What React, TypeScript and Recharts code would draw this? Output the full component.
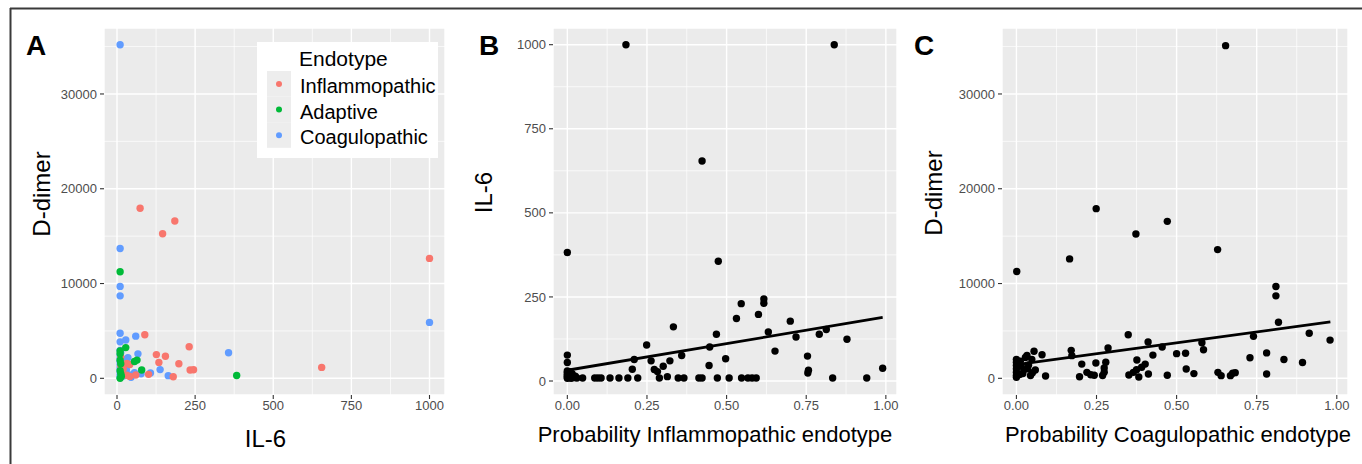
import {
  ScatterChart, Scatter, XAxis, YAxis, CartesianGrid, ReferenceLine, Legend,
} from "recharts";

type Pt = [number, number];

const endotypes = ["Inflammopathic", "Adaptive", "Coagulopathic"];
const endotypeColors = ["#F8766D", "#00BA38", "#619CFF"];

// panel A: [IL-6, D-dimer] per endotype
const inflammopathicA: Pt[] = [
  [74, 17950], [185, 16600], [146, 15250], [1000, 12650], [89, 4600], [231, 3330],
  [126, 2500], [155, 2330], [134, 1680], [198, 1540], [234, 880], [245, 900],
  [655, 1150], [180, 170], [101, 420], [31, 1580], [41, 1450], [31, 320],
  [41, 200], [12, 2250], [12, 1350], [14, 650], [20, 1000], [60, 350],
];
const adaptiveA: Pt[] = [
  [10, 11250], [28, 3240], [56, 1770], [64, 1920], [79, 870], [383, 290],
  [10, 0], [10, 2900], [10, 1900], [12, 1550], [12, 500], [14, 220], [10, 2600], [10, 800],
];
const coagulopathicA: Pt[] = [
  [10, 35200], [10, 13700], [10, 9700], [10, 8700], [1000, 5900], [10, 4750],
  [10, 3850], [28, 4050], [60, 4450], [357, 2690], [67, 2580], [35, 2180],
  [138, 920], [107, 570], [164, 280], [77, 470], [56, 600], [45, 120],
  [10, 2950], [10, 2500], [10, 2150], [10, 1800], [10, 1450], [10, 1100],
  [10, 750], [10, 400], [10, 100], [14, 1300], [15, 500], [20, 250],
  [22, 1650], [30, 900], [12, 2700], [40, 350], [18, 2000], [25, 600],
];

// panel B: [probability inflammopathic, IL-6]
const il6VsInflam: Pt[] = [
  [0.184, 1000], [0.838, 1000], [0.423, 654], [0.0, 382], [0.474, 356], [0.546, 230],
  [0.617, 244], [0.617, 231], [0.6, 198], [0.531, 186], [0.7, 178], [0.333, 161],
  [0.631, 146], [0.718, 131], [0.468, 139], [0.791, 139], [0.813, 153], [0.878, 124],
  [0.249, 107], [0.447, 101], [0.652, 89], [0.0, 77], [0.0, 55], [0.359, 76],
  [0.754, 74], [0.21, 64], [0.497, 66], [0.263, 60], [0.322, 60], [0.204, 35],
  [0.273, 34], [0.283, 28], [0.301, 44], [0.445, 46], [0.757, 32], [0.755, 24],
  [0.99, 38], [0.314, 13],
  [0.048, 9], [0.086, 9], [0.096, 9], [0.106, 9], [0.134, 9], [0.162, 9], [0.19, 9],
  [0.221, 9], [0.289, 9], [0.348, 9], [0.366, 9], [0.413, 9], [0.423, 9], [0.471, 9],
  [0.508, 9], [0.547, 9], [0.567, 9], [0.58, 9], [0.593, 9], [0.833, 9], [0.94, 9],
  [0, 8], [0, 12], [0, 15], [0, 20], [0, 25], [0, 30], [0.005, 10], [0.01, 18],
  [0.012, 8], [0.015, 22], [0.02, 10], [0.025, 14], [0.03, 9], [0.008, 28],
];
const il6Fit: Pt[] = [[0, 32], [0.99, 189]];

// panel C: [probability coagulopathic, D-dimer]
const ddimerVsCoag: Pt[] = [
  [0.653, 35100], [0.249, 17900], [0.471, 16560], [0.373, 15230], [0.628, 13580],
  [0.166, 12600], [0.001, 11270], [0.81, 9690], [0.81, 8700], [0.818, 5910],
  [0.349, 4600], [0.914, 4750], [0.979, 4030], [0.74, 4430], [0.411, 3830],
  [0.579, 3760], [0.584, 3020], [0.286, 3200], [0.455, 3300], [0.171, 2950],
  [0.055, 2850], [0.08, 2490], [0.173, 2390], [0.781, 2680], [0.5, 2600],
  [0.528, 2650], [0.426, 2450], [0.729, 2170], [0.835, 1980], [0.893, 1670],
  [0.376, 1930], [0.402, 1500], [0.204, 1500], [0.248, 1610], [0.279, 1700],
  [0.274, 1100], [0.53, 980], [0.554, 500], [0.781, 450], [0.471, 320],
  [0.629, 630], [0.639, 280], [0.668, 280], [0.675, 530], [0.683, 600],
  [0.197, 170], [0.22, 630], [0.232, 380], [0.243, 320], [0.269, 300],
  [0.274, 650], [0.091, 240], [0.351, 350], [0.365, 630], [0.375, 910],
  [0.382, 140], [0.391, 1160], [0.412, 450], [0.059, 880],
  [0, 2000], [0, 1700], [0, 1350], [0, 1000], [0, 650], [0, 300], [0, 100],
  [0.012, 1800], [0.015, 1300], [0.023, 900], [0.028, 2200], [0.033, 2400],
  [0.038, 1400], [0.044, 300], [0.048, 2000], [0.05, 600], [0.02, 500],
  [0.01, 400], [0.035, 1000],
];
const ddimerFit: Pt[] = [[0, 1450], [0.98, 5950]];

const il6Ticks = [0, 250, 500, 750, 1000];
const il6Minor = [125, 375, 625, 875];
const ddimerTicks = [0, 10000, 20000, 30000];
const ddimerMinor = [5000, 15000, 25000, 35000];
const probTicks = [0, 0.25, 0.5, 0.75, 1];
const probMinor = [0.125, 0.375, 0.625, 0.875];

const FONT = "'Liberation Sans', Arial, Helvetica, sans-serif";
const tickStyle = { fill: "#4d4d4d", fontSize: 13, fontFamily: FONT };

const toData = (pts: Pt[]) => pts.map(([x, y]) => ({ x, y }));
const dot = (color: string) => (p: any) => (
  <circle cx={p.cx} cy={p.cy} r={3.7} fill={color} />
);

interface Series { name: string; color: string; pts: Pt[] }

interface PanelProps {
  left: number;
  width: number;
  mLeft: number;
  mRight: number;
  xDomain: [number, number];
  yDomain: [number, number];
  xTicks: number[];
  yTicks: number[];
  xMinor: number[];
  yMinor: number[];
  xFormat?: (v: number) => string;
  series: Series[];
  fit?: Pt[];
  legend?: boolean;
}

function EndotypeLegend() {
  return (
    <svg width={181} height={116} style={{ fontFamily: FONT }}>
      <rect x={0} y={0} width={181} height={116} fill="#fff" />
      <text x={42} y={24} fontSize={21} fill="#000">Endotype</text>
      {endotypes.map((name, i) => (
        <g key={name}>
          <rect x={10} y={29 + i * 25.6} width={24} height={25.6} fill="#ededed" />
          <circle cx={22} cy={42 + i * 25.6} r={3} fill={endotypeColors[i]} />
          <text x={43} y={51 + i * 25.6} fontSize={20} fill="#000">{name}</text>
        </g>
      ))}
    </svg>
  );
}

function Panel(props: PanelProps) {
  const {
    left, width, mLeft, mRight, xDomain, yDomain, xTicks, yTicks, xMinor, yMinor,
    xFormat, series, fit, legend,
  } = props;
  return (
    <div style={{ position: "absolute", left, top: 0 }}>
      <ScatterChart
        width={width}
        height={464}
        margin={{ top: 28, right: mRight, left: mLeft, bottom: 39 }}
      >
        <CartesianGrid fill="#ebebeb" stroke="#ffffff" strokeWidth={1.4} />
        <XAxis
          type="number"
          dataKey="x"
          domain={xDomain}
          ticks={xTicks}
          interval={0}
          allowDataOverflow
          tickFormatter={xFormat}
          tick={tickStyle}
          tickLine={{ stroke: "#333", strokeWidth: 1.1 }}
          tickSize={4}
          tickMargin={2}
          axisLine={false}
          height={30}
        />
        <YAxis
          type="number"
          dataKey="y"
          domain={yDomain}
          ticks={yTicks}
          interval={0}
          allowDataOverflow
          tick={tickStyle}
          tickLine={{ stroke: "#333", strokeWidth: 1.1 }}
          tickSize={4}
          tickMargin={3}
          axisLine={false}
          width={60}
        />
        {xMinor.map(v => (
          <ReferenceLine key={"x" + v} x={v} stroke="#ffffff" strokeWidth={0.7} />
        ))}
        {yMinor.map(v => (
          <ReferenceLine key={"y" + v} y={v} stroke="#ffffff" strokeWidth={0.7} />
        ))}
        {series.map(s => (
          <Scatter
            key={s.name}
            name={s.name}
            data={toData(s.pts)}
            fill={s.color}
            shape={dot(s.color)}
            isAnimationActive={false}
          />
        ))}
        {fit && (
          <ReferenceLine
            segment={toData(fit)}
            stroke="#000"
            strokeWidth={2.8}
          />
        )}
        {legend && (
          <Legend
            layout="vertical"
            align="center"
            verticalAlign="middle"
            wrapperStyle={{ left: 257, top: 42, width: 181, height: 116 }}
            content={() => <EndotypeLegend />}
          />
        )}
      </ScatterChart>
    </div>
  );
}

export default function App() {
  const probFmt = (v: number) => v.toFixed(2);
  return (
    <div
      style={{
        position: "absolute", left: 0, top: 0, width: 1362, height: 464,
        background: "#fff", fontFamily: FONT, overflow: "hidden",
      }}
    >
      <Panel
        left={0} width={460} mLeft={44} mRight={15}
        xDomain={[-41.6, 1049.6]} yDomain={[-1760, 36960]}
        xTicks={il6Ticks} yTicks={ddimerTicks} xMinor={il6Minor} yMinor={ddimerMinor}
        series={[
          { name: endotypes[2], color: endotypeColors[2], pts: coagulopathicA },
          { name: endotypes[0], color: endotypeColors[0], pts: inflammopathicA },
          { name: endotypes[1], color: endotypeColors[1], pts: adaptiveA },
        ]}
        legend
      />
      <Panel
        left={460} width={440} mLeft={33} mRight={3}
        xDomain={[-0.045, 1.035]} yDomain={[-41.6, 1049.6]}
        xTicks={probTicks} yTicks={il6Ticks} xMinor={probMinor} yMinor={il6Minor}
        xFormat={probFmt}
        series={[{ name: "IL-6", color: "#000", pts: il6VsInflam }]}
        fit={il6Fit}
      />
      <Panel
        left={900} width={462} mLeft={42} mRight={14}
        xDomain={[-0.045, 1.035]} yDomain={[-1760, 36960]}
        xTicks={probTicks} yTicks={ddimerTicks} xMinor={probMinor} yMinor={ddimerMinor}
        xFormat={probFmt}
        series={[{ name: "D-dimer", color: "#000", pts: ddimerVsCoag }]}
        fit={ddimerFit}
      />
      <svg
        width={1362} height={464}
        style={{ position: "absolute", left: 0, top: 0, pointerEvents: "none", fontFamily: FONT }}
      >
        <line x1={10} y1={8.5} x2={1362} y2={8.5} stroke="#3a3a3a" strokeWidth={2} />
        <line x1={10.5} y1={8} x2={10.5} y2={464} stroke="#3a3a3a" strokeWidth={2} />
        <text x={26} y={55} fontSize={28} fontWeight="bold">A</text>
        <text x={479} y={55} fontSize={28} fontWeight="bold">B</text>
        <text x={914} y={55} fontSize={28} fontWeight="bold">C</text>
        <text x={50} y={194} fontSize={24} textAnchor="middle" transform="rotate(-90 50 194)">D-dimer</text>
        <text x={265.5} y={446.7} fontSize={24} textAnchor="middle">IL-6</text>
        <text x={491.7} y={192.5} fontSize={24} textAnchor="middle" transform="rotate(-90 491.7 192.5)">IL-6</text>
        <text x={715} y={442} fontSize={22} textAnchor="middle">Probability Inflammopathic endotype</text>
        <text x={941.7} y={193} fontSize={24} textAnchor="middle" transform="rotate(-90 941.7 193)">D-dimer</text>
        <text x={1178} y={442} fontSize={22} textAnchor="middle">Probability Coagulopathic endotype</text>
      </svg>
    </div>
  );
}
